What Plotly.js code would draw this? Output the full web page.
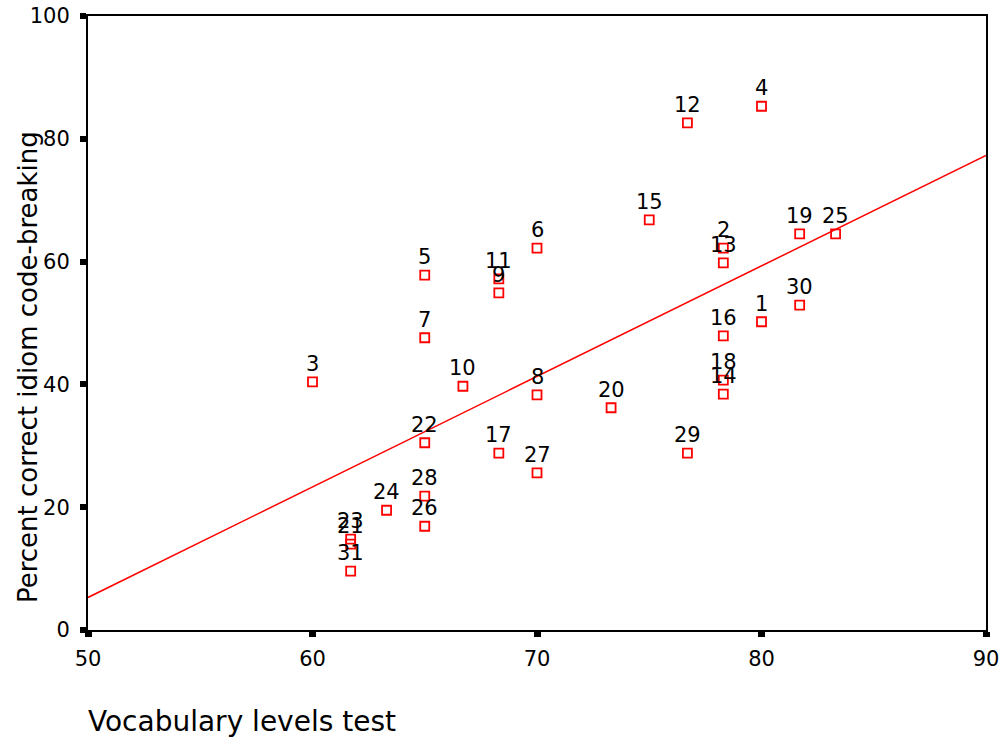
<!DOCTYPE html>
<html>
<head>
<meta charset="utf-8">
<script src="https://cdn.plot.ly/plotly-3.0.1.min.js"></script>
<style>html,body{margin:0;padding:0;background:#fff;}#chart{width:1001px;height:738px;}</style>
</head>
<body>
<div id="chart"></div>
<script>
// Case labels
const caseIds = ["1","2","3","4","5","6","7","8","9","10","11","12","13","14","15","16","17","18","19","20","21","22","23","24","25","26","27","28","29","30","31"];
// Vocabulary levels test
const vocab = [80.0,78.3,60.0,80.0,65.0,70.0,65.0,70.0,68.3,66.7,68.3,76.7,78.3,78.3,75.0,78.3,68.3,78.3,81.7,73.3,61.7,65.0,61.7,63.3,83.3,65.0,70.0,65.0,76.7,81.7,61.7];
// Percent correct idiom code-breaking
const idiom = [50.2,62.2,40.4,85.3,57.8,62.2,47.6,38.3,54.9,39.7,57.2,82.6,59.8,38.4,66.8,47.9,28.8,40.7,64.5,36.2,14.0,30.5,14.8,19.5,64.5,16.9,25.6,21.8,28.8,52.9,9.6];
// Fit line
const fitX = [50, 90];
const fitY = [5.3, 77.3];
const xTicks = [50,60,70,80,90];
const yTicks = [0,20,40,60,80,100];

const FONT = "DejaVu Sans, Liberation Sans, Arial, sans-serif";

const traces = [
  {x: fitX, y: fitY, mode: "lines", type: "scatter", line: {color: "#ff0000", width: 1.5}, hoverinfo: "skip", cliponaxis: true},
  {x: vocab, y: idiom, mode: "markers", type: "scatter",
   marker: {symbol: "square-open", size: 9, color: "#ff0000", line: {color: "#ff0000", width: 1.8}}, cliponaxis: false}
];

const annotations = caseIds.map((t, i) => ({
  x: vocab[i], y: idiom[i], xref: "x", yref: "y", text: t, showarrow: false,
  yshift: 18, font: {family: FONT, size: 21, color: "#000"}
}));
annotations.push({
  xref: "paper", yref: "paper", x: -0.067, y: 0.428, xanchor: "center", yanchor: "middle",
  textangle: -90, text: "Percent correct idiom code-breaking", showarrow: false,
  font: {family: FONT, size: 26, color: "#000"}
});
annotations.push({
  xref: "paper", yref: "paper", x: -0.002, y: -0.149, xanchor: "left", yanchor: "middle",
  text: "Vocabulary levels test", showarrow: false,
  font: {family: FONT, size: 28, color: "#000"}
});

const layout = {
  width: 1001, height: 738,
  margin: {l: 88, r: 15, t: 16, b: 108},
  paper_bgcolor: "#fff", plot_bgcolor: "#fff",
  showlegend: false,
  xaxis: {range: [50, 90], tickvals: xTicks, ticktext: xTicks.map(String),
    showgrid: false, zeroline: false, showline: true, mirror: true, linecolor: "#000", linewidth: 2,
    ticks: "outside", ticklen: 5, tickwidth: 7, tickcolor: "#000", ticklabelstandoff: 4,
    tickfont: {family: FONT, size: 21, color: "#000"}},
  yaxis: {range: [0, 100], tickvals: yTicks, ticktext: yTicks.map(String),
    showgrid: false, zeroline: false, showline: true, mirror: true, linecolor: "#000", linewidth: 2,
    ticks: "outside", ticklen: 6, tickwidth: 6, tickcolor: "#000", ticklabelstandoff: 6,
    tickfont: {family: FONT, size: 21, color: "#000"}},
  annotations: annotations
};

Plotly.newPlot("chart", traces, layout, {staticPlot: true, displayModeBar: false});
</script>
</body>
</html>
